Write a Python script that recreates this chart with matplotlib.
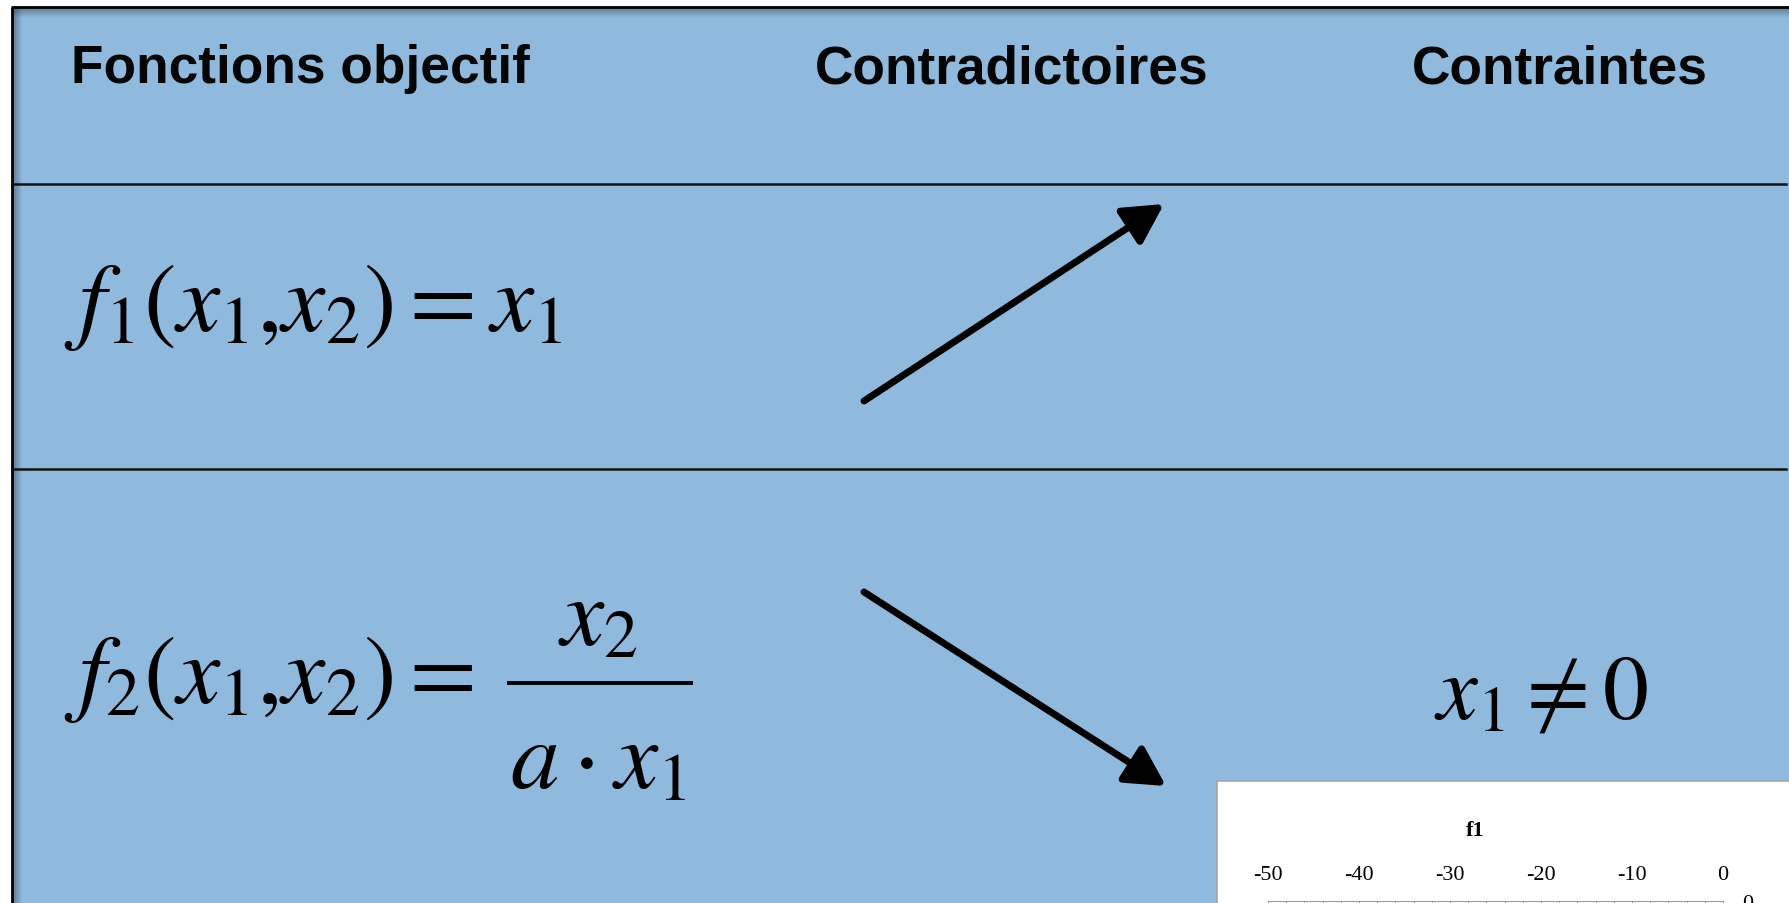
import numpy as np
import matplotlib.pyplot as plt
from matplotlib.patches import Rectangle, FancyArrowPatch
import matplotlib.patheffects as pe

# texte de la diapo
headers = ['Fonctions objectif', 'Contradictoires', 'Contraintes']
f1_txt = r'$f_1(x_1{,}x_2) = x_1$'
f2_lhs = r'$f_2(x_1{,}x_2) =$'
f2_num = r'$x_2$'
f2_den = r'$a \cdot x_1$'
contrainte = r'$x_1 \neq 0$'

# petit graphe f1 (coin bas droit)
f1_title = 'f1'
f1_ticks = [-50, -40, -30, -20, -10, 0]
f1_minor = [-50, -48, -46, -44, -42, -40, -38, -36, -34, -32, -30, -28, -26,
            -24, -22, -20, -18, -16, -14, -12, -10, -8, -6, -4, -2, 0]
f1_yticks = [0]

W, H = 1789, 904
bleu = '#90BADD'

plt.rcParams['mathtext.fontset'] = 'stix'
plt.rcParams['axes.unicode_minus'] = False

fig = plt.figure(figsize=(W / 100, H / 100), dpi=100)
ax = fig.add_axes([0, 0, 1, 1])
ax.set_xlim(0, W)
ax.set_ylim(H, 0)
ax.axis('off')

# fond bleu + ombres du cadre
ax.add_patch(Rectangle((12, 8), W, H, facecolor=bleu, edgecolor='none'))
for i in range(9):
    a = 0.45 * (1 - i / 9.0)
    ax.add_patch(Rectangle((12, 9 + i), W, 1, facecolor='#2c3440', alpha=a, edgecolor='none'))
    ax.add_patch(Rectangle((13 + i, 9), 1, H, facecolor='#2c3440', alpha=a, edgecolor='none'))
ax.plot([11, W], [8, 8], color='k', lw=2, solid_capstyle='butt')
ax.plot([12, 12], [8, H], color='k', lw=2, solid_capstyle='butt')

# separateurs
for yy in [185, 470]:
    ax.plot([12, 1786], [yy, yy], color='#111111', lw=1.8)

# en-tetes
for txt, xx in zip(headers, [71, 815, 1412]):
    ax.text(xx, 83, txt, fontsize=38.3, fontweight='bold', family='Liberation Sans',
            ha='left', va='baseline', color='#050505')

# formules
fs = 70
ax.text(64, 331, f1_txt, fontsize=fs, ha='left', va='baseline')
ax.text(64, 703, f2_lhs, fontsize=fs, ha='left', va='baseline')
ax.plot([507, 693], [684, 684], color='k', lw=2.8, solid_capstyle='butt')
ax.text(598, 645, f2_num, fontsize=fs, ha='center', va='baseline')
ax.text(598, 788, f2_den, fontsize=fs, ha='center', va='baseline')
ax.text(1541, 719, contrainte, fontsize=fs - 4, ha='center', va='baseline')

# fleches
glow = [pe.SimplePatchShadow(offset=(2, -2), shadow_rgbFace='white', alpha=0.35), pe.Normal()]
for (x0, y0), (x1, y1) in [((864, 402), (1164, 205)), ((864, 593), (1166, 787))]:
    arr = FancyArrowPatch((x0, y0), (x1, y1), arrowstyle='-|>,head_length=24,head_width=13',
                          mutation_scale=1, lw=5, color='k', shrinkA=0, shrinkB=0,
                          path_effects=glow)
    ax.add_patch(arr)

# encart blanc avec le graphe f1
ax.add_patch(Rectangle((1217, 782), 700, 300, facecolor='white', edgecolor='#A8A8A8', lw=1.2))
ax.text(1475, 831, f1_title, fontsize=16, fontweight='bold', family='Liberation Serif',
        ha='center', va='center')

ax2 = fig.add_axes([1268 / W, (H - 902) / H - 0.2, 455 / W, 0.2])
ax2.set_xlim(-50, 0)
ax2.set_ylim(-10, 0)
ax2.xaxis.tick_top()
ax2.set_xticks(f1_ticks)
ax2.set_xticks(f1_minor, minor=True)
ax2.yaxis.tick_right()
ax2.set_yticks(f1_yticks)
ax2.tick_params(axis='both', which='both', direction='in', labelsize=16, color='#808080')
ax2.tick_params(axis='x', which='major', length=6, pad=12)
ax2.tick_params(axis='x', which='minor', length=6)
ax2.tick_params(axis='y', length=0, pad=14)
for lab in ax2.get_xticklabels() + ax2.get_yticklabels():
    lab.set_family('Liberation Serif')
for s in ax2.spines.values():
    s.set_color('#9A9A9A')
    s.set_linewidth(0.8)

fig.savefig('out.png', dpi=100)
